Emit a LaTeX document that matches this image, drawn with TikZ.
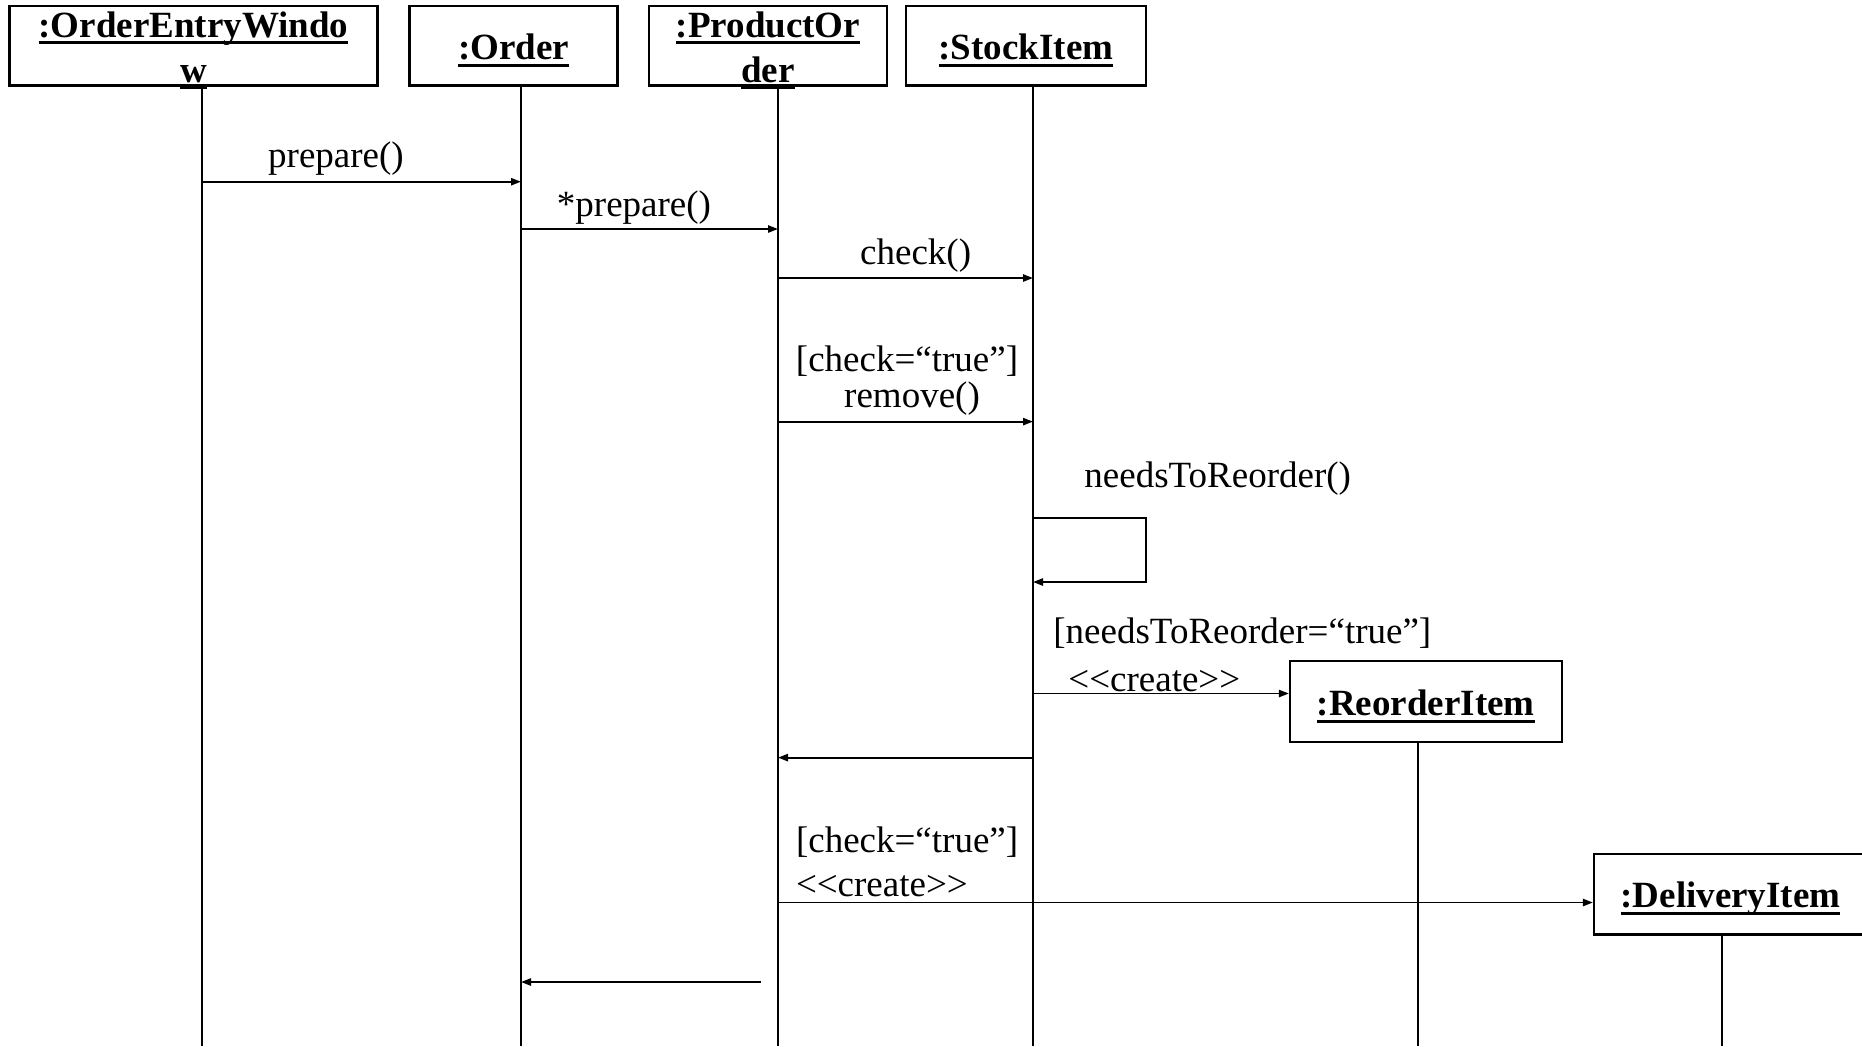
\documentclass[tikz,border=0pt]{standalone}
\usepackage{fontspec}
\setmainfont{Liberation Serif}
\usetikzlibrary{arrows.meta}

% bold underline used for object names, set a little lower in the box
\newcommand\objname[1]{\begingroup\setbox0\hbox{#1}%
  \leavevmode\raisebox{-2.4pt}[\height][\depth]{\rlap{\raisebox{-3.4pt}{\rule{\wd0}{1.4pt}}}\box0}\endgroup}

\begin{document}
\begin{tikzpicture}[x=0.5pt,y=-0.5pt,
  obj/.style={draw, line width=1.1pt, rectangle, inner sep=0pt,
    font=\fontsize{18.5}{22.5}\selectfont\bfseries, align=center},
  life/.style={line width=0.8pt},
  msg/.style={line width=0.95pt, -{Triangle[length=5pt,width=3.6pt]}},
  lbl/.style={font=\fontsize{18.5}{22}\selectfont, inner sep=0pt}
]
\useasboundingbox (0,0) rectangle (1862,1046);
\fill[white] (0,0) rectangle (1862,1046);

% object boxes
\node[obj, minimum width=184pt, minimum height=39.75pt] (win) at (193.5,45.75)
  {\objname{:OrderEntryWindo}\\\objname{w}};
\node[obj, minimum width=104pt, minimum height=39.75pt] (ord) at (513.5,45.75)
  {\objname{:Order}};
\node[obj, minimum width=119pt, minimum height=39.75pt] (prod) at (768,45.75)
  {\objname{:ProductOr}\\\objname{der}};
\node[obj, minimum width=120pt, minimum height=39.75pt] (stock) at (1026,45.75)
  {\objname{:StockItem}};
\node[obj, minimum width=135.8pt, minimum height=40.5pt] (reord) at (1425.8,701.5)
  {\objname{:ReorderItem}};
\node[obj, minimum width=136.5pt, minimum height=40.25pt] (deliv) at (1730.5,894.25)
  {\objname{:DeliveryItem}};

% lifeline positions
\coordinate (xw) at (202,0);
\coordinate (xo) at (521,0);
\coordinate (xp) at (778,0);
\coordinate (xs) at (1033,0);
\coordinate (xr) at (1418,0);
\coordinate (xd) at (1722,0);
\coordinate (bot) at (0,1046);

\draw[life] (win.south -| xw) -- (bot -| xw);
\draw[life] (ord.south -| xo) -- (bot -| xo);
\draw[life] (prod.south -| xp) -- (bot -| xp);
\draw[life] (stock.south -| xs) -- (bot -| xs);
\draw[life] (reord.south -| xr) -- (bot -| xr);
\draw[life] (deliv.south -| xd) -- (bot -| xd);

% message rows
\coordinate (y1) at (0,181.7);
\coordinate (y2) at (0,229);
\coordinate (y3) at (0,278);
\coordinate (y4) at (0,421.6);
\coordinate (y5a) at (0,517.8);
\coordinate (y5b) at (0,582);
\coordinate (y6) at (0,693.5);
\coordinate (y7) at (0,757.6);
\coordinate (y8) at (0,902.5);
\coordinate (y9) at (0,982);
\coordinate (loopx) at (1146,0);
\coordinate (retstart) at (761,0);

% messages
\draw[msg] (xw |- y1) -- (xo |- y1);
\node[lbl] (l1) at (336,159) {prepare()};

\draw[msg] (xo |- y2) -- (xp |- y2);
\node[lbl] (l2) at (634,207.5) {*prepare()};

\draw[msg] (xp |- y3) -- (xs |- y3);
\node[lbl] (l3) at (915.6,255.5) {check()};

\draw[msg] (xp |- y4) -- (xs |- y4);
\node[lbl] (l4a) at (907,361) {[check=“true”]};
\node[lbl] (l4b) at (912,399) {remove()};

\draw[msg] (xs |- y5a) -- (loopx |- y5a) -- (loopx |- y5b) -- (xs |- y5b);
\node[lbl, anchor=west] (l5) at (1084,478.5) {needsToReorder()};

\draw[msg] (xs |- y6) -- (reord.west |- y6);
\node[lbl, anchor=west] (l6a) at (1053,633) {[needsToReorder=“true”]};
\node[lbl, anchor=west] (l6b) at (1068,681) {<\kern0pt<create>\kern0pt>};

\draw[msg] (xs |- y7) -- (xp |- y7);

\draw[msg] (xp |- y8) -- (deliv.west |- y8);
\node[lbl, anchor=west] (l8a) at (795.6,842) {[check=“true”]};
\node[lbl, anchor=west] (l8b) at (795.6,886.5) {<\kern0pt<create>\kern0pt>};

\draw[msg] (retstart |- y9) -- (xo |- y9);
\end{tikzpicture}
\end{document}
